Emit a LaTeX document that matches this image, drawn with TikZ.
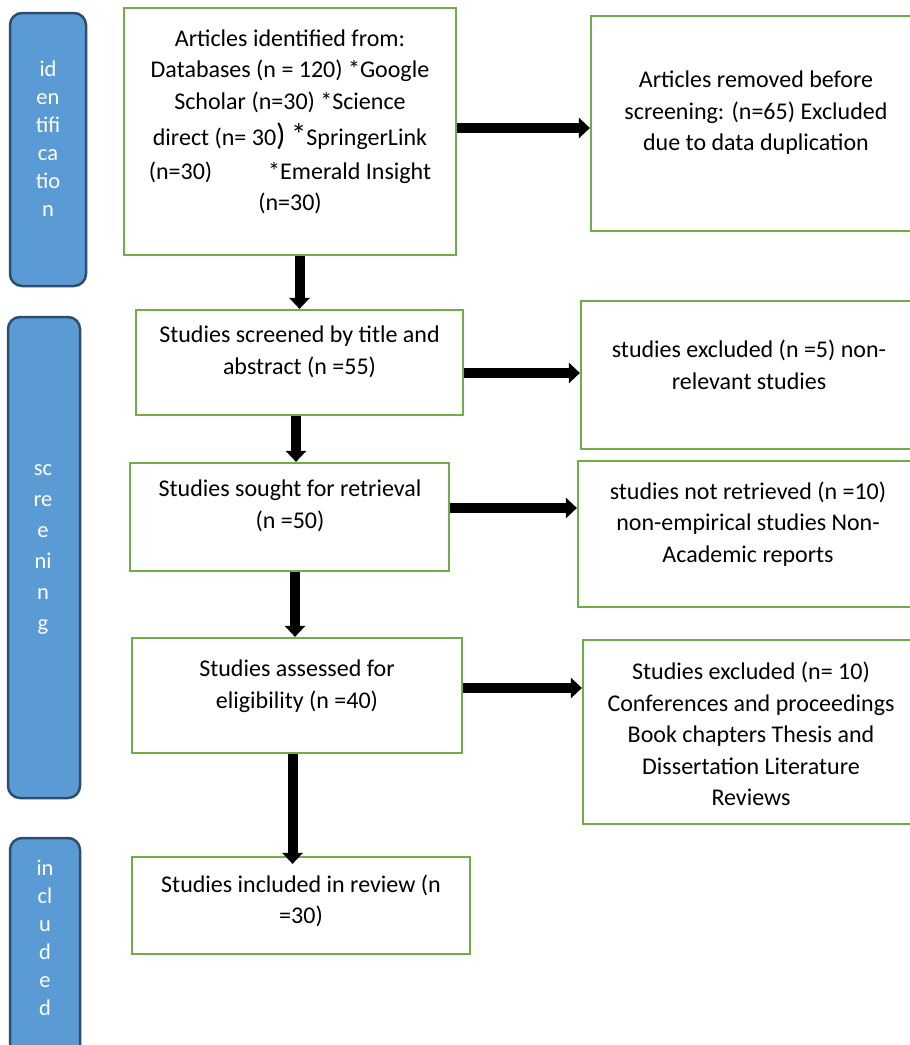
\documentclass[tikz,border=0pt]{standalone}
\usepackage{fontspec}
\setmainfont{Carlito}
\usetikzlibrary{arrows.meta}
\definecolor{gboxc}{HTML}{70AD47}
\definecolor{bfill}{HTML}{5B9BD5}
\definecolor{bline}{HTML}{2F4D6E}
\begin{document}
\begin{tikzpicture}[x=1pt,y=-1pt,
  gbox/.style={draw=gboxc, line width=2.2pt, fill=white, inner sep=0pt},
  stagebox/.style={draw=bline, fill=bfill, line width=2.5pt, rounded corners=12pt, inner sep=0pt},
  gtext/.style={align=center, inner sep=0pt, font=\fontsize{24pt}{31.5pt}\selectfont},
  stext/.style={align=center, inner sep=0pt, text=white, font=\fontsize{22.5pt}{28pt}\selectfont},
  arr/.style={line width=10pt, -{Triangle[width=20pt,length=11pt]}}
]
\clip (0,0) rectangle (910,1045);
\fill[white] (0,0) rectangle (910,1045);

% stage boxes
\node[stagebox, minimum width=76pt, minimum height=273pt] (sid) at (48,149.5) {};
\node[stagebox, minimum width=72pt, minimum height=481pt] (ssc) at (44,557.5) {};
\node[stagebox, minimum width=70pt, minimum height=237pt] (sin) at (45,956.5) {};
\node[stext] (tid) at (48,139) {id\\en\\tifi\\ca\\tio\\n};
\node[stext, font=\fontsize{22.5pt}{31pt}\selectfont] (tsc) at (43,549) {sc\\re\\e\\ni\\n\\g};
\node[stext] (tin) at (45,938) {in\\cl\\u\\d\\e\\d};

% main column boxes
\node[gbox, minimum width=332pt, minimum height=247pt] (b1) at (290,131.5) {};
\node[gbox, minimum width=327pt, minimum height=105pt] (b2) at (299.5,362.5) {};
\node[gbox, minimum width=319pt, minimum height=108pt] (b3) at (289.5,517) {};
\node[gbox, minimum width=330pt, minimum height=115pt] (b4) at (297,695.5) {};
\node[gbox, minimum width=338pt, minimum height=97pt] (b5) at (301,905.5) {};

% side boxes
\node[gbox, minimum width=330pt, minimum height=215pt] (r1) at (756,123.5) {};
\node[gbox, minimum width=336pt, minimum height=148pt] (r2) at (749,375) {};
\node[gbox, minimum width=340pt, minimum height=146pt] (r3) at (748,534) {};
\node[gbox, minimum width=336pt, minimum height=184pt] (r4) at (751,732) {};

% texts
\node[gtext] (t1) at (290,122) {Articles identified from:\\
Databases (n = 120) *Google\\
Scholar (n=30) *Science\\[5pt]
direct (n= 30{\fontsize{31pt}{31pt}\selectfont )} {\fontsize{31pt}{31pt}\selectfont *}SpringerLink\\[2pt]
(n=30)\hspace{56pt}*Emerald Insight\\
(n=30)};
\node[gtext] (t2) at (299.5,352) {Studies screened by title and\\abstract (n =55)};
\node[gtext] (t3) at (290,506) {Studies sought for retrieval\\(n =50)};
\node[gtext] (t4) at (297,686) {Studies assessed for\\eligibility (n =40)};
\node[gtext] (t5) at (301,901) {Studies included in review (n\\=30)};
\node[gtext] (u1) at (756,113) {Articles removed before\\screening: (n=65) Excluded\\due to data duplication};
\node[gtext] (u2) at (749,365) {studies excluded (n =5) non-\\relevant studies};
\node[gtext] (u3) at (748,524) {studies not retrieved (n =10)\\non-empirical studies Non-\\Academic reports};
\node[gtext] (u4) at (751,734) {Studies excluded (n= 10)\\Conferences and proceedings\\Book chapters Thesis and\\Dissertation Literature\\Reviews};

% horizontal arrows
\draw[arr] ([yshift=3.5pt]b1.east) -- ([yshift=3.5pt]b1.east -| r1.west);
\draw[arr] ([yshift=-10.5pt]b2.east) -- ([yshift=-10.5pt]b2.east -| r2.west);
\draw[arr] ([yshift=9pt]b3.east) -- ([yshift=9pt]b3.east -| r3.west);
\draw[arr] ([yshift=7.5pt]b4.east) -- ([yshift=7.5pt]b4.east -| r4.west);

% vertical arrows
\draw[arr] (b2.north |- b1.south) -- (b2.north);
\draw[arr] ([xshift=-3.5pt]b2.south) -- ([xshift=-3.5pt]b2.south |- b3.north);
\draw[arr] ([xshift=-2pt]b4.north |- b3.south) -- ([xshift=-2pt]b4.north);
\draw[arr, shorten >=-8pt] ([xshift=-4.5pt]b4.south) -- ([xshift=-4.5pt]b4.south |- b5.north);
\end{tikzpicture}
\end{document}
